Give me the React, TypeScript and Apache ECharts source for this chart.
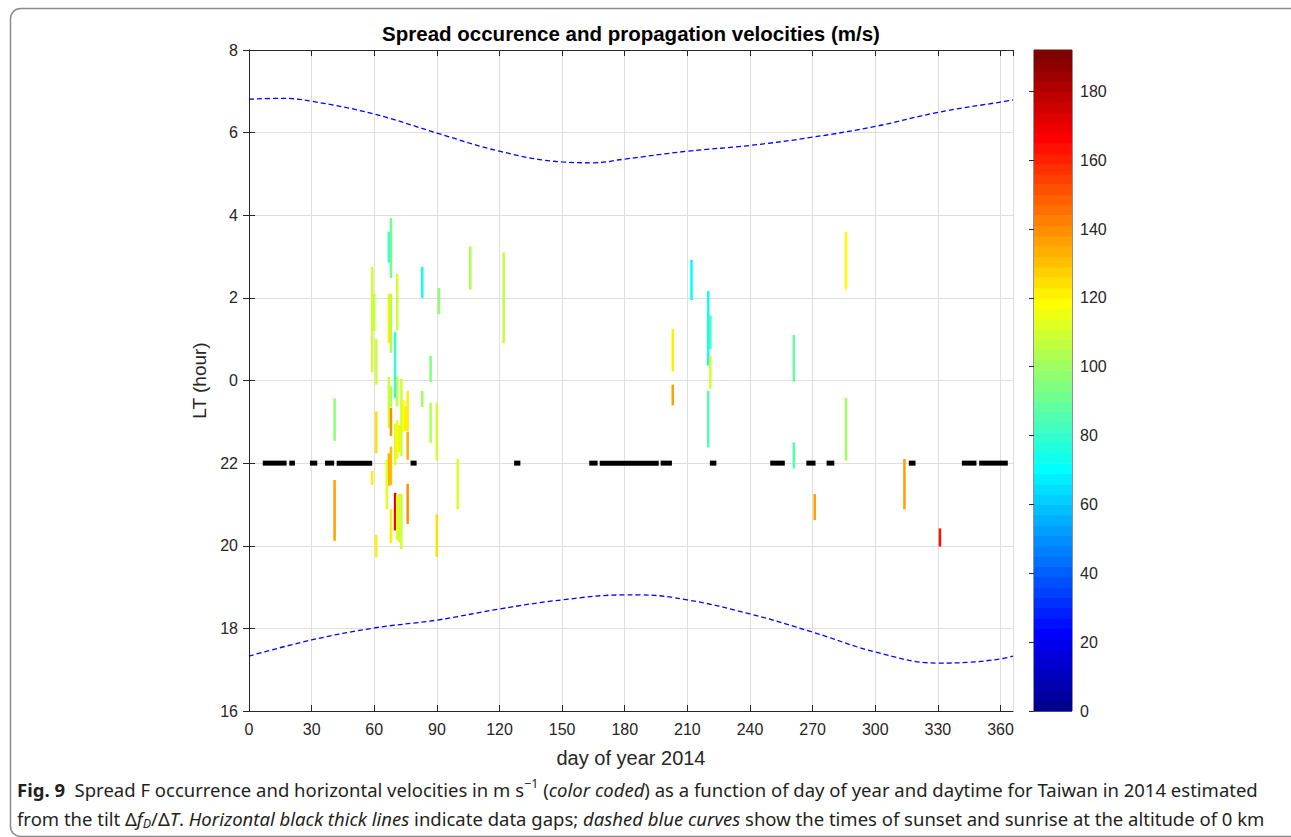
import React, { useEffect, useRef } from "react";
import * as echarts from "echarts";

// ---------- data ----------
// Spread F occurrences: day of year, LT start, LT end, velocity (m/s)
const spreadDay = [68, 67, 59, 60, 61, 67, 68, 71, 70, 83, 91, 87, 106, 122,
  41, 41, 61, 59, 61, 67, 68, 68, 71, 67, 68, 66, 70, 68, 71, 72, 73, 70, 71, 72, 73, 74, 75, 76, 76, 76, 83, 87, 90, 90, 100,
  212, 220, 221, 221, 220, 203, 203, 261, 261, 286, 286, 271, 314, 331];
const spreadFrom = [2.48, 2.85, 0.2, 1.2, 23.9, 0.9, 0.67, 1.22, 23.57, 2.0, 1.6, 23.96, 2.2, 0.9,
  22.54, 20.12, 22.24, 21.47, 19.72, 22.84, 22.66, 23.36, 23.38, 21.45, 21.47, 20.88, 20.37, 20.06, 20.13, 20.09, 19.92, 21.95, 22.12, 22.27, 22.17, 22.76, 22.78, 22.78, 22.08, 20.53, 23.36, 22.49, 22.06, 19.73, 20.88,
  1.95, 0.36, 0.76, 23.8, 22.38, 0.22, 23.4, 23.97, 21.87, 2.2, 22.06, 20.62, 20.88, 19.98];
const spreadTo = [3.93, 3.6, 2.75, 2.1, 1.0, 2.1, 2.1, 2.58, 1.17, 2.75, 2.24, 0.6, 3.25, 3.1,
  23.57, 21.59, 23.25, 21.81, 20.26, 0.09, 23.34, 23.86, 0.1, 22.24, 22.4, 22.08, 21.28, 20.89, 21.23, 21.26, 21.26, 22.96, 23.04, 22.92, 0.04, 23.53, 23.37, 23.75, 22.76, 21.5, 23.75, 23.46, 23.46, 20.76, 22.1,
  2.92, 2.17, 1.58, 0.6, 23.75, 1.25, 23.9, 1.1, 22.5, 3.6, 23.58, 21.25, 22.1, 20.42];
const spreadVel = [92, 82, 110, 105, 110, 120, 104, 108, 78, 72, 98, 95, 104, 106,
  98, 135, 125, 122, 122, 108, 140, 104, 106, 132, 130, 112, 170, 122, 112, 110, 110, 112, 115, 120, 110, 118, 120, 122, 132, 140, 100, 104, 108, 124, 112,
  70, 74, 82, 108, 84, 120, 136, 88, 84, 118, 100, 136, 136, 162];

// Data gaps (day ranges at 22 LT)
const gapStart = [6.6, 19.3, 29.2, 36.4, 42, 77.4, 127, 163, 168, 197.2, 220.8, 249.7, 267, 276.7, 316.1, 341.5, 349.8];
const gapEnd = [18, 22, 32.7, 40.8, 59, 80.3, 130, 167, 196.3, 202.6, 223.9, 256.7, 271.4, 280.4, 319.3, 348.5, 363.5];
const gapLT = 22;

// Sunrise / sunset at 0 km
const sunriseDays = [0, 16, 30, 60, 90, 120, 150, 165, 180, 210, 240, 270, 300, 330, 360, 366];
const sunriseLT = [6.81, 6.83, 6.76, 6.45, 5.99, 5.55, 5.29, 5.27, 5.36, 5.55, 5.69, 5.89, 6.15, 6.49, 6.74, 6.79];
const sunsetDays = [0, 30, 60, 90, 120, 150, 180, 187, 210, 240, 270, 300, 330, 345, 360, 366];
const sunsetLT = [17.33, 17.72, 18.01, 18.2, 18.47, 18.69, 18.81, 18.81, 18.69, 18.35, 17.91, 17.43, 17.16, 17.18, 17.26, 17.33];

const dayMin = 0, dayMax = 366, dayStep = 30;
const hourMin = 16, hourMax = 32, hourStep = 2;
const velMin = 0, velMax = 192, velStep = 20, velLevels = 64;

// ---------- helpers ----------
const toAxisHour = (lt: number) => (lt < 12 ? lt + 24 : lt);
const clamp01 = (v: number) => Math.max(0, Math.min(1, v));
function jet(v: number): string {
  let i = Math.floor(((v - velMin) / (velMax - velMin)) * velLevels);
  i = Math.max(0, Math.min(velLevels - 1, i));
  const x = (i + 1) / velLevels;
  const r = clamp01(1.5 - Math.abs(4 * x - 3));
  const g = clamp01(1.5 - Math.abs(4 * x - 2));
  const b = clamp01(1.5 - Math.abs(4 * x - 1));
  return `rgb(${Math.round(r * 255)},${Math.round(g * 255)},${Math.round(b * 255)})`;
}

const AXC = "#262626";
const FONT = "Liberation Sans, Arial, sans-serif";
const CAP = "Noto Sans, sans-serif";
const CAPSIZE = 18.5;

export default function App() {
  const ref = useRef<HTMLDivElement>(null);
  useEffect(() => {
    const chart = echarts.init(ref.current!, null, { renderer: "svg" });

    const spreadData = spreadDay.map((d, i) => {
      let a = toAxisHour(spreadFrom[i]);
      let b = toAxisHour(spreadTo[i]);
      if (b < a) b += 24;
      return [d, a, b, spreadVel[i]];
    });
    const gapData = gapStart.map((s, i) => [s, gapEnd[i], gapLT]);
    const sunriseData = sunriseDays.map((d, i) => [d, toAxisHour(sunriseLT[i])]);
    const sunsetData = sunsetDays.map((d, i) => [d, toAxisHour(sunsetLT[i])]);
    const cbData = Array.from({ length: velLevels }, (_, i) => [i * (velMax / velLevels), (i + 1) * (velMax / velLevels)]);

    const axisCommon = {
      axisLine: { show: true, lineStyle: { color: AXC, width: 1 } },
      axisTick: { show: true, inside: true, length: 6, lineStyle: { color: AXC } },
    };

    const option: any = {
      animation: false,
      backgroundColor: "#fff",
      grid: [
        { left: 249, top: 50, width: 764, height: 661 },
        { left: 1034, top: 50, width: 38, height: 661, show: true, borderColor: AXC, borderWidth: 1, backgroundColor: "transparent" },
      ],
      xAxis: [
        {
          gridIndex: 0, type: "value", position: "bottom", min: dayMin, max: dayMax, interval: dayStep,
          ...axisCommon,
          axisLabel: { fontSize: 16, color: AXC, fontFamily: FONT, margin: 10, showMaxLabel: false },
          splitLine: { show: true, lineStyle: { color: "#dedede", width: 1 } },
          name: "day of year 2014", nameLocation: "middle", nameGap: 37,
          nameTextStyle: { fontSize: 20, color: AXC, fontFamily: FONT },
        },
        {
          gridIndex: 0, type: "value", position: "top", min: dayMin, max: dayMax, interval: dayStep,
          ...axisCommon, axisLabel: { show: false }, splitLine: { show: false },
        },
        { gridIndex: 1, type: "value", min: 0, max: 1, show: false },
      ],
      yAxis: [
        {
          gridIndex: 0, type: "value", position: "left", min: hourMin, max: hourMax, interval: hourStep,
          ...axisCommon,
          axisLabel: { fontSize: 16, color: AXC, fontFamily: FONT, margin: 11, formatter: (v: number) => String(v % 24) },
          splitLine: { show: true, lineStyle: { color: "#dedede", width: 1 } },
          name: "LT (hour)", nameLocation: "middle", nameGap: 38,
          nameTextStyle: { fontSize: 19, color: AXC, fontFamily: FONT },
        },
        {
          gridIndex: 0, type: "value", position: "right", min: hourMin, max: hourMax, interval: hourStep,
          ...axisCommon, axisLabel: { show: false }, splitLine: { show: false },
        },
        {
          gridIndex: 1, type: "value", position: "right", min: velMin, max: velMax, interval: velStep,
          axisLine: { show: false },
          axisTick: { show: true, inside: true, length: 5, lineStyle: { color: AXC } },
          axisLabel: { fontSize: 16, color: AXC, fontFamily: FONT, margin: 8, showMaxLabel: false },
          splitLine: { show: false },
        },
      ],
      series: [
        {
          type: "custom", name: "colorbar", xAxisIndex: 2, yAxisIndex: 2, data: cbData, silent: true,
          encode: { y: [0, 1] },
          renderItem: (params: any, api: any) => {
            const lo = api.value(0), hi = api.value(1);
            const p0 = api.coord([0, lo]);
            const p1 = api.coord([1, hi]);
            return {
              type: "rect",
              shape: { x: p0[0], y: p1[1], width: p1[0] - p0[0], height: p0[1] - p1[1] + 0.6 },
              style: { fill: jet((lo + hi) / 2) },
            };
          },
          z: 1,
        },
        {
          type: "custom", name: "spread", xAxisIndex: 0, yAxisIndex: 0, data: spreadData,
          encode: { x: 0, y: [1, 2] },
          renderItem: (params: any, api: any) => {
            const d = api.value(0), a = api.value(1), b = api.value(2), v = api.value(3);
            const p0 = api.coord([d, a]);
            const p1 = api.coord([d, b]);
            return {
              type: "rect",
              shape: { x: p0[0] - 1.25, y: p1[1], width: 2.5, height: p0[1] - p1[1] },
              style: { fill: jet(v) },
            };
          },
          z: 3,
        },
        {
          type: "custom", name: "gaps", xAxisIndex: 0, yAxisIndex: 0, data: gapData,
          encode: { x: [0, 1], y: 2 },
          renderItem: (params: any, api: any) => {
            const s = api.value(0), e = api.value(1), h = api.value(2);
            const p0 = api.coord([s, h]);
            const p1 = api.coord([e, h]);
            return {
              type: "rect",
              shape: { x: p0[0], y: p0[1] - 2.5, width: p1[0] - p0[0], height: 5 },
              style: { fill: "#000" },
            };
          },
          z: 4,
        },
        {
          type: "line", name: "sunrise", xAxisIndex: 0, yAxisIndex: 0, data: sunriseData, smooth: 0.4,
          showSymbol: false, symbol: "none",
          lineStyle: { color: "#0000ff", width: 1.3, type: [5, 3] }, z: 5,
        },
        {
          type: "line", name: "sunset", xAxisIndex: 0, yAxisIndex: 0, data: sunsetData, smooth: 0.4,
          showSymbol: false, symbol: "none",
          lineStyle: { color: "#0000ff", width: 1.3, type: [5, 3] }, z: 5,
        },
      ],
      graphic: [
        {
          type: "rect", left: 8, top: 6, silent: true, z: -1,
          shape: { width: 1300, height: 828, r: 10 },
          style: { fill: "none", stroke: "#8a8a8a", lineWidth: 1.5 },
        },
        {
          type: "text", x: 631, y: 33, silent: true,
          style: {
            text: "Spread occurence and propagation velocities (m/s)",
            font: `bold 20.5px ${FONT}`, fill: "#000", textAlign: "center", textVerticalAlign: "middle",
          },
        },
        {
          type: "text", x: 17, y: 789, silent: true,
          style: {
            text: "{b|Fig. 9}  Spread F occurrence and horizontal velocities in m s{sup|−1} ({i|color coded}) as a function of day of year and daytime for Taiwan in 2014 estimated",
            font: `${CAPSIZE}px ${CAP}`, fill: "#231f20", textVerticalAlign: "middle", lineHeight: 24,
            rich: {
              b: { fontWeight: "bold", fontSize: CAPSIZE, fontFamily: CAP, fill: "#231f20", lineHeight: 24 },
              i: { fontStyle: "italic", fontSize: CAPSIZE, fontFamily: CAP, fill: "#231f20", lineHeight: 24 },
              sup: { fontSize: 12.5, fontFamily: CAP, fill: "#231f20", verticalAlign: "top", lineHeight: 24 },
            },
          },
        },
        {
          type: "text", x: 17, y: 818, silent: true,
          style: {
            text: "from the tilt Δ{i|f}{sub|D}/Δ{i|T}. {i|Horizontal black thick lines} indicate data gaps; {i|dashed blue curves} show the times of sunset and sunrise at the altitude of 0 km",
            font: `${CAPSIZE}px ${CAP}`, fill: "#231f20", textVerticalAlign: "middle", lineHeight: 24,
            rich: {
              i: { fontStyle: "italic", fontSize: CAPSIZE, fontFamily: CAP, fill: "#231f20", lineHeight: 24 },
              sub: { fontStyle: "italic", fontSize: 12.5, fontFamily: CAP, fill: "#231f20", verticalAlign: "bottom", lineHeight: 24 },
            },
          },
        },
      ],
    };
    chart.setOption(option);
    return () => chart.dispose();
  }, []);
  return <div ref={ref} style={{ position: "absolute", left: 0, top: 0, width: 1291, height: 837 }} />;
}
